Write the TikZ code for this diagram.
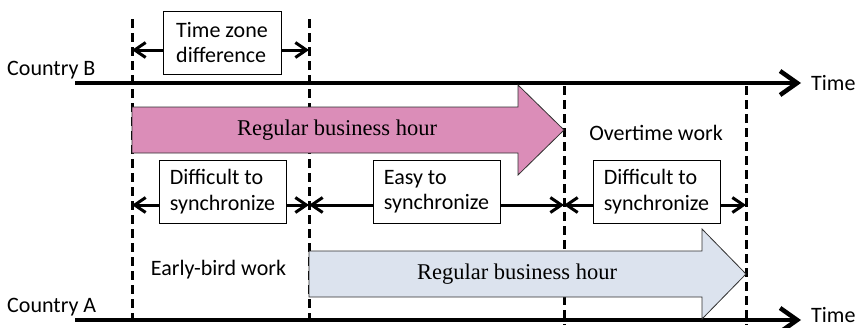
\documentclass[tikz,border=0pt]{standalone}
\usepackage{fontspec}
\setmainfont{Carlito}
\newfontfamily\seriffont{Liberation Serif}
\usetikzlibrary{arrows.meta}
\definecolor{pinkfill}{HTML}{DB8DB8}
\definecolor{bluefill}{HTML}{DCE3EE}
\definecolor{edgegrey}{HTML}{303030}
\begin{document}
\begin{tikzpicture}[x=1pt,y=-1pt,
  lbl/.style={font=\fontsize{22}{25}\selectfont, inner sep=0pt},
  serlbl/.style={font=\seriffont\fontsize{22.5}{26}\selectfont, inner sep=0pt},
  boxed/.style={draw, line width=0.9pt, fill=white, align=left,
    font=\fontsize{22}{25.5}\selectfont, inner sep=0pt,
    minimum width=127pt, minimum height=63pt},
  guide/.style={line width=3pt, dash pattern=on 9pt off 5pt},
  axisline/.style={line width=4.5pt, -{Straight Barb[length=17pt,width=24pt]}},
  span/.style={line width=3pt,
    {Straight Barb[length=11pt,width=15pt]}-{Straight Barb[length=11pt,width=15pt]}},
  bigarrow/.style={draw=edgegrey, line width=0.8pt}
]
\useasboundingbox (0,0) rectangle (858,327);

% vertical guide positions
\coordinate (g1t) at (132,19);  \coordinate (g1b) at (132,325);
\coordinate (g2t) at (309,19);  \coordinate (g2b) at (309,325);
\coordinate (g3t) at (564,86);  \coordinate (g3b) at (564,325);
\coordinate (g4t) at (746,86);  \coordinate (g4b) at (746,325);
\draw[guide] (g1t) -- (g1b);
\draw[guide] (g2t) -- (g2b);
\draw[guide] (g3t) -- (g3b);
\draw[guide] (g4t) -- (g4b);

% time axes
\coordinate (bstart) at (75,83);  \coordinate (bend) at (801,83);
\coordinate (astart) at (75,320); \coordinate (aend) at (801,320);
\draw[axisline] (bstart) -- (bend);
\draw[axisline] (astart) -- (aend);
\node[lbl, anchor=base west] (timeB) at (811,90.5) {Time};
\node[lbl, anchor=base west] (timeA) at (811,322.5) {Time};
\node[lbl, anchor=base west] (countryB) at (7,75) {Country B};
\node[lbl, anchor=base west] (countryA) at (7,312) {Country A};

% business-hour arrows
\draw[bigarrow, fill=pinkfill] (132,107) -- (518,107) -- (518,85) -- (564,130)
  -- (518,175) -- (518,153) -- (132,153) -- cycle;
\node[serlbl] (regB) at (337,130) {Regular business hour};
\draw[bigarrow, fill=bluefill] (309,251) -- (702,251) -- (702,229) -- (746,274)
  -- (702,319) -- (702,297) -- (309,297) -- cycle;
\node[serlbl] (regA) at (517,274) {Regular business hour};

% spans between guides
\coordinate (tzl) at (132,50);  \coordinate (tzr) at (309,50);
\coordinate (s1) at (132,205);  \coordinate (s2) at (309,205);
\coordinate (s3) at (564,205);  \coordinate (s4) at (746,205);
\draw[span] (tzl) -- (tzr);
\draw[span] (s1) -- (s2);
\draw[span] (s2) -- (s3);
\draw[span] (s3) -- (s4);

\node[boxed, minimum width=118pt] (tz) at (222,42.5) {Time zone\\difference};
\node[boxed] (d1) at (222.5,191.5) {Difficult to\\synchronize};
\node[boxed] (easy) at (436.5,191.5) {Easy to\\synchronize};
\node[boxed] (d3) at (656.5,191.5) {Difficult to\\synchronize};

\node[lbl] (over) at (656,133) {Overtime work};
\node[lbl] (early) at (218.5,270) {Early-bird work};
\end{tikzpicture}
\end{document}
